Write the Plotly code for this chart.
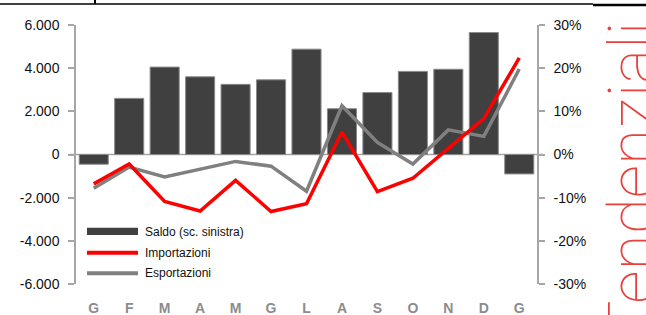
import plotly.graph_objects as go

months = ["G", "F", "M", "A", "M", "G", "L", "A", "S", "O", "N", "D", "G"]
saldo = [-450, 2600, 4050, 3600, 3250, 3460, 4880, 2120, 2870, 3850, 3950, 5650, -900]
importazioni = [-6.8, -2.2, -10.9, -13.1, -6.0, -13.2, -11.4, 5.2, -8.6, -5.5, 1.4, 8.3, 22.4]
esportazioni = [-7.8, -2.9, -5.2, -3.5, -1.6, -2.7, -8.5, 11.3, 2.8, -2.2, 5.7, 4.2, 19.8]

left_ticks = [-6000, -4000, -2000, 0, 2000, 4000, 6000]
left_labels = ["-6.000", "-4.000", "-2.000", "0", "2.000", "4.000", "6.000"]
right_ticks = [-30, -20, -10, 0, 10, 20, 30]
right_labels = ["-30%", "-20%", "-10%", "0%", "10%", "20%", "30%"]

legend_names = ["Saldo (sc. sinistra)", "Importazioni", "Esportazioni"]
side_title = "Tendenziali"

x = list(range(len(months)))

fig = go.Figure()
fig.add_trace(go.Bar(x=x, y=saldo, name=legend_names[0], marker=dict(color="#404040", line=dict(color="#8a8a8a", width=1)),
                     showlegend=False, yaxis="y"))
fig.add_trace(go.Scatter(x=x, y=esportazioni, name=legend_names[2], mode="lines",
                         line=dict(color="#808080", width=3.5), showlegend=False, yaxis="y2"))
fig.add_trace(go.Scatter(x=x, y=importazioni, name=legend_names[1], mode="lines",
                         line=dict(color="#ff0000", width=3.5), showlegend=False, yaxis="y2"))

axis_font = dict(family="Liberation Sans, Arial", size=14, color="#111111")

fig.update_layout(
    template="none",
    autosize=False,
    width=646, height=315,
    margin=dict(l=76, r=109, t=25, b=31, pad=0),
    paper_bgcolor="white", plot_bgcolor="white",
    bargap=0.18,
    xaxis=dict(tickmode="array", tickvals=x, ticktext=months, range=[-0.5, len(months) - 0.5],
               showgrid=False, zeroline=False, showline=False, ticks="", automargin=False,
               tickfont=dict(family="Liberation Sans, Arial", size=14, color="#8c8c8c", weight="bold"),
               ticklabelstandoff=14),
    yaxis=dict(range=[-6000, 6000], tickmode="array", tickvals=left_ticks, ticktext=left_labels,
               showgrid=False, zeroline=False, automargin=False,
               showline=True, linecolor="#a6a6a6", linewidth=1.5, ticks="outside", ticklen=6,
               tickcolor="#a6a6a6", tickwidth=1.5, tickfont=axis_font, ticklabelstandoff=6),
    yaxis2=dict(range=[-30, 30], overlaying="y", side="right", tickmode="array", tickvals=right_ticks,
                ticktext=right_labels, showgrid=False, zeroline=False, automargin=False,
                showline=True, linecolor="#a6a6a6", linewidth=1.5, ticks="outside", ticklen=6,
                tickcolor="#a6a6a6", tickwidth=1.5, tickfont=axis_font, ticklabelstandoff=6),
)

# zero line extension across ticks
fig.add_shape(type="line", xref="paper", yref="y", x0=-0.013, x1=1.013, y0=0, y1=0,
              line=dict(color="#a6a6a6", width=1.5), layer="below")

# manual legend
def px(xp):
    return (xp - 76) / 461.0

def py(yp):
    return (284 - yp) / 259.0

fig.add_shape(type="rect", xref="paper", yref="paper", x0=px(87), x1=px(138), y0=py(235), y1=py(227.7),
              fillcolor="#404040", line=dict(width=0))
fig.add_shape(type="line", xref="paper", yref="paper", x0=px(87), x1=px(138), y0=py(252.7), y1=py(252.7),
              line=dict(color="#ff0000", width=4))
fig.add_shape(type="line", xref="paper", yref="paper", x0=px(87), x1=px(138), y0=py(273.3), y1=py(273.3),
              line=dict(color="#808080", width=4))
for name, yy in zip(legend_names, [231.5, 252.7, 273.3]):
    fig.add_annotation(text=name, xref="paper", yref="paper", x=px(143), y=py(yy), xanchor="left",
                       yanchor="middle", showarrow=False,
                       font=dict(family="Liberation Sans Narrow, Arial Narrow, Liberation Sans", size=12, color="#111111"))

# top rule
fig.add_shape(type="line", xref="paper", yref="paper", x0=px(0), x1=px(593), y0=py(4), y1=py(4),
              line=dict(color="black", width=1.5))
fig.add_shape(type="line", xref="paper", yref="paper", x0=px(593), x1=px(646), y0=py(5), y1=py(5),
              line=dict(color="black", width=2.5))
fig.add_shape(type="line", xref="paper", yref="paper", x0=px(95), x1=px(95), y0=py(0), y1=py(4),
              line=dict(color="black", width=2))

# side title
fig.add_annotation(text=side_title, xref="paper", yref="paper", x=px(633), y=py(20), xanchor="center",
                   yanchor="top", textangle=-90, showarrow=False,
                   font=dict(family="Roboto", size=66, color="#e8413c", weight=100))

fig.write_html("out.html", config={"displayModeBar": False},
               post_script="document.body.style.margin='0';document.body.style.overflow='hidden';")
